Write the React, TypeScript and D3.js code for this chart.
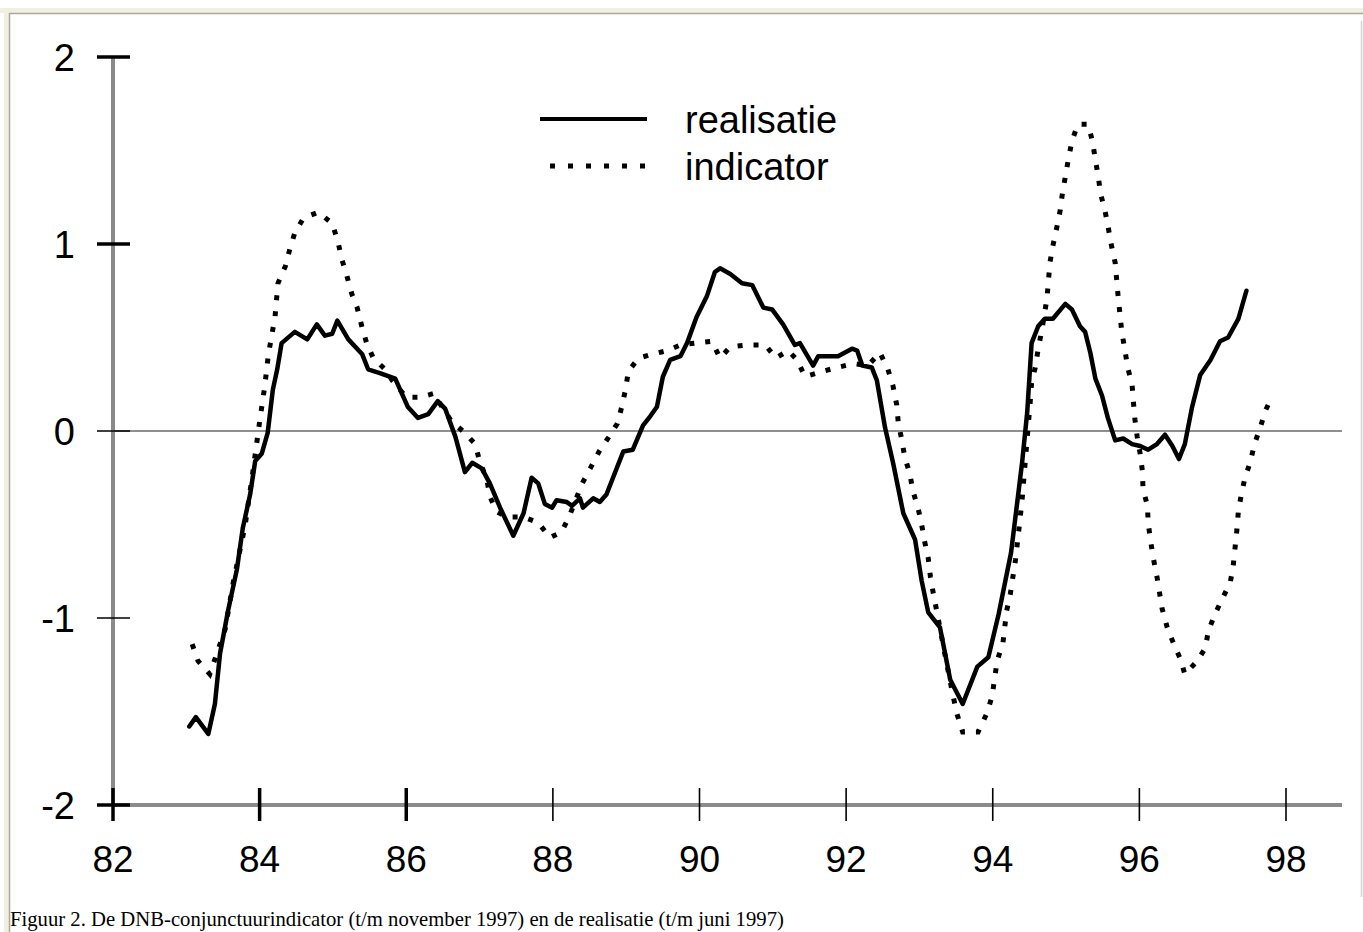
import React from "react";
import * as d3 from "d3";

// realisatie (t/m juni 1997)
const realYears = [
  83.04, 83.13, 83.3, 83.39, 83.46, 83.57, 83.69, 83.77, 83.87, 83.94, 84.03, 84.11, 84.18, 84.24, 84.3,
  84.48, 84.65, 84.78, 84.89, 84.99, 85.06, 85.21, 85.4, 85.48, 85.64, 85.85, 86.02, 86.16, 86.3, 86.43,
  86.53, 86.67, 86.8, 86.9, 87.03, 87.14, 87.28, 87.46, 87.6, 87.71, 87.8, 87.89, 87.99, 88.05, 88.19,
  88.26, 88.37, 88.41, 88.55, 88.64, 88.73, 88.82, 88.96, 89.09, 89.23, 89.33, 89.42, 89.5, 89.6, 89.74,
  89.83, 89.96, 90.1, 90.21, 90.28, 90.42, 90.58, 90.72, 90.87, 90.99, 91.14, 91.3, 91.37, 91.55, 91.62,
  91.89, 92.08, 92.15, 92.22, 92.35, 92.42, 92.53, 92.64, 92.78, 92.94, 93.03, 93.12, 93.28, 93.42, 93.59,
  93.79, 93.94, 94.08, 94.25, 94.4, 94.47, 94.53, 94.62, 94.71, 94.82, 94.99, 95.08, 95.19, 95.26, 95.33,
  95.4, 95.49, 95.57, 95.67, 95.78, 95.9, 96.01, 96.12, 96.24, 96.35, 96.45, 96.54, 96.62, 96.72, 96.83,
  96.97, 97.1, 97.21, 97.35, 97.46,
];
const realValues = [
  -1.58, -1.53, -1.62, -1.46, -1.19, -0.96, -0.74, -0.52, -0.34, -0.16, -0.12, -0.01, 0.22, 0.33, 0.47,
  0.53, 0.49, 0.57, 0.51, 0.52, 0.59, 0.49, 0.41, 0.33, 0.31, 0.28, 0.13, 0.07, 0.09, 0.16,
  0.12, -0.03, -0.22, -0.17, -0.2, -0.28, -0.41, -0.56, -0.44, -0.25, -0.28, -0.39, -0.41, -0.37, -0.38,
  -0.4, -0.36, -0.41, -0.36, -0.38, -0.34, -0.25, -0.11, -0.1, 0.03, 0.08, 0.13, 0.29, 0.38, 0.4,
  0.47, 0.61, 0.72, 0.85, 0.87, 0.84, 0.79, 0.78, 0.66, 0.65, 0.57, 0.46, 0.47, 0.35, 0.4,
  0.4, 0.44, 0.43, 0.35, 0.34, 0.27, 0.02, -0.17, -0.44, -0.58, -0.8, -0.97, -1.05, -1.33, -1.46,
  -1.26, -1.21, -0.98, -0.65, -0.17, 0.1, 0.47, 0.56, 0.6, 0.6, 0.68, 0.65, 0.56, 0.53, 0.42,
  0.28, 0.19, 0.07, -0.05, -0.04, -0.07, -0.08, -0.1, -0.07, -0.02, -0.08, -0.15, -0.07, 0.13, 0.3,
  0.38, 0.48, 0.5, 0.6, 0.75,
];

// indicator (t/m november 1997)
const indYears = [
  83.08, 83.16, 83.32, 83.53, 83.64, 83.73, 83.8, 83.9, 84.0, 84.07, 84.12, 84.21, 84.25, 84.35, 84.41,
  84.48, 84.6, 84.8, 84.99, 85.07, 85.12, 85.19, 85.26, 85.33, 85.4, 85.46, 85.55, 85.71, 85.81, 86.0,
  86.19, 86.37, 86.62, 86.8, 86.94, 87.0, 87.1, 87.14, 87.23, 87.37, 87.6, 87.8, 87.96, 88.12, 88.23,
  88.4, 88.51, 88.63, 88.75, 88.88, 88.94, 88.99, 89.03, 89.17, 89.35, 89.56, 89.74, 89.94, 90.17, 90.28,
  90.42, 90.66, 90.9, 91.04, 91.21, 91.33, 91.44, 91.69, 91.88, 92.1, 92.3, 92.46, 92.57, 92.64, 92.69,
  92.71, 92.76, 92.8, 92.87, 92.91, 92.98, 93.03, 93.07, 93.12, 93.15, 93.19, 93.24, 93.35, 93.45, 93.51,
  93.59, 93.8, 93.92, 93.99, 94.06, 94.14, 94.19, 94.24, 94.31, 94.35, 94.4, 94.44, 94.48, 94.51, 94.53,
  94.58, 94.62, 94.67, 94.74, 94.78, 94.82, 94.88, 94.92, 94.95, 94.99, 95.03, 95.08, 95.16, 95.3, 95.36,
  95.4, 95.44, 95.47, 95.53, 95.57, 95.62, 95.67, 95.69, 95.71, 95.76, 95.8, 95.84, 95.9, 95.92, 95.94,
  95.97, 96.01, 96.04, 96.05, 96.11, 96.12, 96.15, 96.19, 96.24, 96.31, 96.38, 96.46, 96.56, 96.62, 96.79,
  96.9, 96.94, 97.03, 97.14, 97.24, 97.28, 97.33, 97.35, 97.39, 97.44, 97.51, 97.57, 97.65, 97.72, 97.82,
];
const indValues = [
  -1.14, -1.23, -1.3, -1.06, -0.81, -0.64, -0.51, -0.24, 0.05, 0.24, 0.41, 0.61, 0.79, 0.88, 0.97,
  1.06, 1.14, 1.17, 1.11, 1.01, 0.92, 0.83, 0.73, 0.66, 0.55, 0.47, 0.39, 0.33, 0.27, 0.18,
  0.18, 0.2, 0.05, -0.01, -0.07, -0.16, -0.26, -0.35, -0.43, -0.46, -0.46, -0.49, -0.57, -0.54, -0.45,
  -0.28, -0.2, -0.11, -0.04, 0.04, 0.13, 0.22, 0.32, 0.39, 0.41, 0.43, 0.46, 0.47, 0.48, 0.39,
  0.45, 0.46, 0.46, 0.39, 0.43, 0.38, 0.29, 0.32, 0.34, 0.36, 0.35, 0.42, 0.33, 0.24, 0.14,
  0.05, -0.05, -0.14, -0.23, -0.32, -0.41, -0.5, -0.59, -0.68, -0.78, -0.87, -0.97, -1.2, -1.4, -1.51,
  -1.61, -1.61, -1.51, -1.42, -1.23, -1.13, -0.96, -0.87, -0.69, -0.55, -0.37, -0.18, 0.01, 0.15, 0.26,
  0.34, 0.44, 0.54, 0.71, 0.9, 0.99, 1.1, 1.18, 1.27, 1.36, 1.45, 1.55, 1.64, 1.64, 1.55,
  1.45, 1.36, 1.27, 1.18, 1.1, 0.99, 0.9, 0.81, 0.72, 0.53, 0.44, 0.34, 0.25, 0.15, 0.06,
  -0.03, -0.12, -0.21, -0.31, -0.4, -0.49, -0.58, -0.68, -0.78, -0.95, -1.05, -1.13, -1.22, -1.3, -1.23,
  -1.16, -1.07, -0.98, -0.89, -0.81, -0.72, -0.53, -0.43, -0.34, -0.25, -0.17, -0.07, 0.02, 0.11, 0.19,
];

const xTicks = [82, 84, 86, 88, 90, 92, 94, 96, 98];
const xTickLabels = ["82", "84", "86", "88", "90", "92", "94", "96", "98"];
const xThickTicks = [82, 84, 86];
const yTicks = [2, 1, 0, -1, -2];
const yTickLabels = ["2", "1", "0", "-1", "-2"];
const yThickTicks = [2, 1, -2];

const seriesNames = ["realisatie", "indicator"];
const caption =
  "Figuur 2. De DNB-conjunctuurindicator (t/m november 1997) en de realisatie (t/m juni 1997)";

const W = 1363;
const H = 932;
const SANS = "'Liberation Sans', Arial, Helvetica, sans-serif";
const SERIF = "'Liberation Serif', 'Times New Roman', serif";

export default function App() {
  const x = d3.scaleLinear().domain([82, 98]).range([113, 1286]);
  const y = d3.scaleLinear().domain([-2, 2]).range([805, 57]);

  const realData: [number, number][] = realYears.map((yr, i) => [yr, realValues[i]]);
  const indData: [number, number][] = indYears.map((yr, i) => [yr, indValues[i]]);

  const lineGen = d3
    .line<[number, number]>()
    .x((d) => x(d[0]))
    .y((d) => y(d[1]))
    .curve(d3.curveLinear);

  const axisLeft = x(82);
  const axisBottom = y(-2);
  const axisRight = 1342;

  return (
    <svg
      width={W}
      height={H}
      viewBox={`0 0 ${W} ${H}`}
      style={{ position: "absolute", left: 0, top: 0, background: "#ffffff" }}
    >
      <rect x={0} y={0} width={W} height={H} fill="#ffffff" />
      {/* frame */}
      <rect x={0} y={8} width={W} height={5} fill="#f1efe2" />
      <rect x={4} y={8} width={5} height={H - 8} fill="#f1efe2" />
      <line x1={9} x2={W} y1={13.5} y2={13.5} stroke="#aca899" strokeWidth={1.5} />
      <line x1={9.5} x2={9.5} y1={13} y2={H} stroke="#aca899" strokeWidth={1.5} />
      <line x1={1361.5} x2={1361.5} y1={21} y2={897} stroke="#d4d4d4" strokeWidth={1.5} />

      {/* zero line */}
      <line x1={axisLeft} x2={axisRight} y1={y(0)} y2={y(0)} stroke="#6a6a6a" strokeWidth={1.3} />

      {/* axes */}
      <line x1={axisLeft} x2={axisLeft} y1={y(2)} y2={axisBottom} stroke="#8a8a8a" strokeWidth={4} />
      <line x1={axisLeft} x2={axisRight} y1={axisBottom} y2={axisBottom} stroke="#8a8a8a" strokeWidth={4} />

      {/* y ticks */}
      {yTicks.map((t, i) => (
        <g key={"y" + t}>
          <line
            x1={97}
            x2={130}
            y1={y(t)}
            y2={y(t)}
            stroke="#000"
            strokeWidth={yThickTicks.includes(t) ? 3.5 : 1.6}
          />
          <text
            x={75}
            y={y(t) + 13.5}
            textAnchor="end"
            fontFamily={SANS}
            fontSize={38}
            fill="#000"
          >
            {yTickLabels[i]}
          </text>
        </g>
      ))}

      {/* x ticks */}
      {xTicks.map((t, i) => (
        <g key={"x" + t}>
          <line
            x1={x(t)}
            x2={x(t)}
            y1={788}
            y2={821}
            stroke="#000"
            strokeWidth={xThickTicks.includes(t) ? 3.5 : 1.6}
          />
          <text
            x={x(t)}
            y={872}
            textAnchor="middle"
            fontFamily={SANS}
            fontSize={37}
            fill="#000"
          >
            {xTickLabels[i]}
          </text>
        </g>
      ))}

      {/* series */}
      <path
        d={lineGen(indData) || ""}
        fill="none"
        stroke="#000"
        strokeWidth={5}
        strokeDasharray="5 11"
        strokeLinecap="butt"
      />
      <path
        d={lineGen(realData) || ""}
        fill="none"
        stroke="#000"
        strokeWidth={4.5}
        strokeLinejoin="round"
        strokeLinecap="round"
      />

      {/* legend */}
      <line x1={540} x2={647} y1={119} y2={119} stroke="#000" strokeWidth={4} />
      <text x={685} y={133} fontFamily={SANS} fontSize={38} fill="#000">
        {seriesNames[0]}
      </text>
      <line
        x1={550}
        x2={650}
        y1={166}
        y2={166}
        stroke="#000"
        strokeWidth={5}
        strokeDasharray="5 13"
      />
      <text x={685} y={180} fontFamily={SANS} fontSize={38} fill="#000">
        {seriesNames[1]}
      </text>

      {/* caption */}
      <text x={10} y={926} fontFamily={SERIF} fontSize={20.7} fill="#000">
        {caption}
      </text>
    </svg>
  );
}
